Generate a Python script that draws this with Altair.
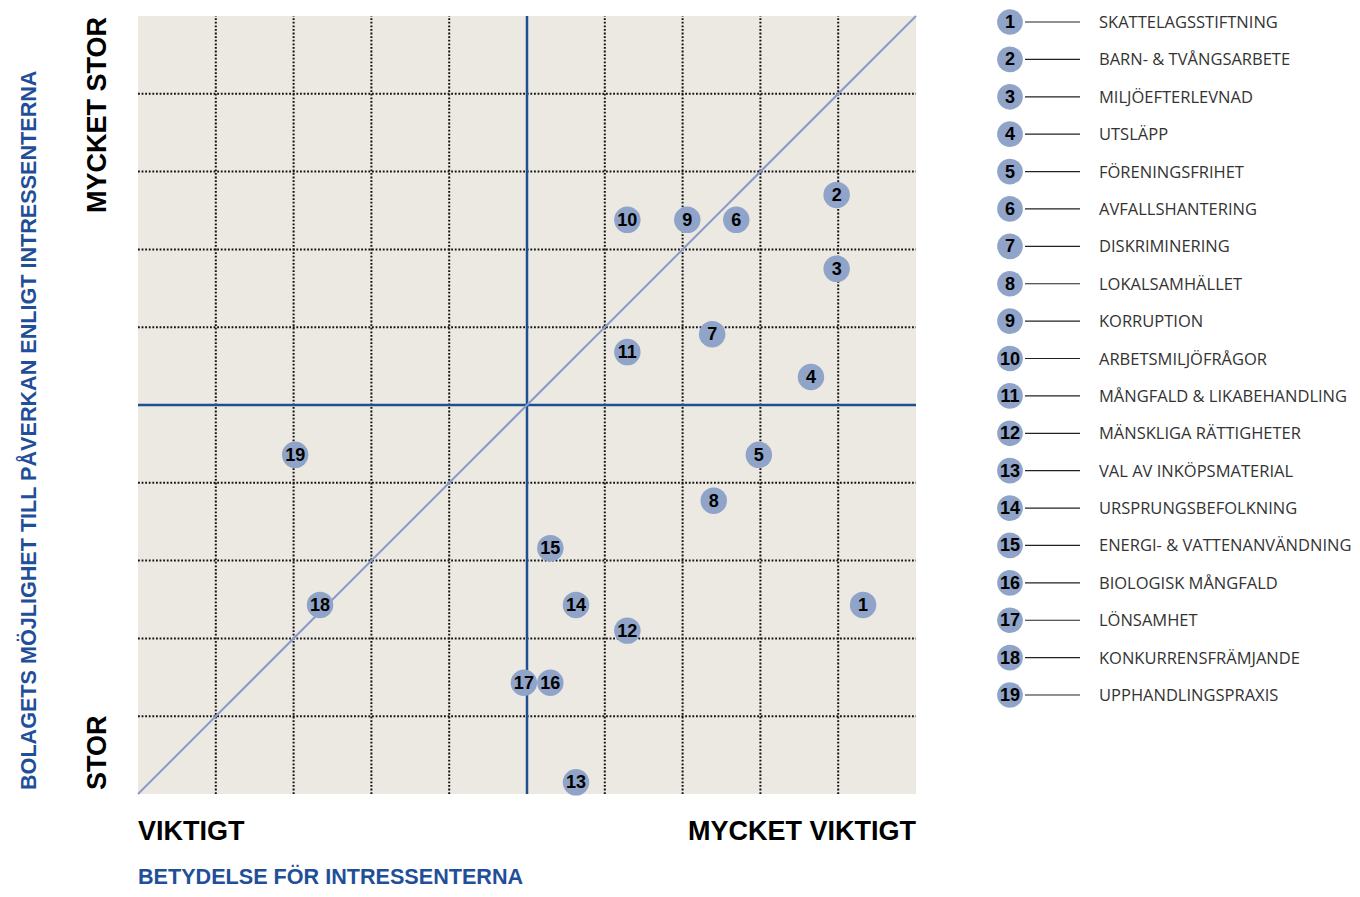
import altair as alt
import pandas as pd

# ---- data ----
issue_nr = list(range(1, 20))
issue_names = [
    "SKATTELAGSSTIFTNING", "BARN- & TVÅNGSARBETE", "MILJÖEFTERLEVNAD", "UTSLÄPP",
    "FÖRENINGSFRIHET", "AVFALLSHANTERING", "DISKRIMINERING", "LOKALSAMHÄLLET",
    "KORRUPTION", "ARBETSMILJÖFRÅGOR", "MÅNGFALD & LIKABEHANDLING",
    "MÄNSKLIGA RÄTTIGHETER", "VAL AV INKÖPSMATERIAL", "URSPRUNGSBEFOLKNING",
    "ENERGI- & VATTENANVÄNDNING", "BIOLOGISK MÅNGFALD", "LÖNSAMHET",
    "KONKURRENSFRÄMJANDE", "UPPHANDLINGSPRAXIS",
]
importance = [9.32, 8.98, 8.98, 8.65, 7.98, 7.69, 7.38, 7.40, 7.06, 6.29,
              6.29, 6.29, 5.63, 5.63, 5.30, 5.30, 4.96, 2.34, 2.02]
influence = [2.43, 7.70, 6.75, 5.36, 4.36, 7.38, 5.91, 3.77, 7.38, 7.38,
             5.68, 2.10, 0.15, 2.43, 3.16, 1.43, 1.43, 2.43, 4.36]
grid_ticks = [1, 2, 3, 4, 6, 7, 8, 9]

x_title = "BETYDELSE FÖR INTRESSENTERNA"
y_title = "BOLAGETS MÖJLIGHET TILL PÅVERKAN ENLIGT INTRESSENTERNA"
x_low, x_high = "VIKTIGT", "MYCKET VIKTIGT"
y_low, y_high = "STOR", "MYCKET STOR"

# ---- layout ----
W, H = 1344, 881
PX = 77.8                      # pixels per unit
XMIN = -130 / PX
XMAX = XMIN + W / PX
YMAX = 10 + 8 / PX
YMIN = YMAX - H / PX

xs = alt.Scale(domain=[XMIN, XMAX], nice=False, zero=False)
ys = alt.Scale(domain=[YMIN, YMAX], nice=False, zero=False)

BG = "#ece9e2"
DOT = "#8fa4c8"
NAVY = "#1d4f91"
DIAG = "#8d99c9"
TITLE_BLUE = "#1f4f98"
BOLD = "Liberation Sans"


def X(f):
    return alt.X(f, type="quantitative", scale=xs, axis=None)


def Y(f):
    return alt.Y(f, type="quantitative", scale=ys, axis=None)


pts = pd.DataFrame({"nr": issue_nr, "x": importance, "y": influence})

bg = alt.Chart(pd.DataFrame({"x": [0], "x2": [10], "y": [0], "y2": [10]})).mark_rect(
    color=BG).encode(x=X("x"), x2="x2", y=Y("y"), y2="y2")

vgrid = alt.Chart(pd.DataFrame({"v": grid_ticks, "a": 0, "b": 10})).mark_rule(
    color="#111111", strokeWidth=2, strokeDash=[1.8, 1.8]).encode(
    x=X("v"), y=Y("a"), y2="b")
hgrid = alt.Chart(pd.DataFrame({"v": grid_ticks, "a": 0, "b": 10})).mark_rule(
    color="#111111", strokeWidth=2, strokeDash=[1.8, 1.8]).encode(
    y=Y("v"), x=X("a"), x2="b")

vcenter = alt.Chart(pd.DataFrame({"v": [5], "a": [0], "b": [10]})).mark_rule(
    color=NAVY, strokeWidth=2.5).encode(x=X("v"), y=Y("a"), y2="b")
hcenter = alt.Chart(pd.DataFrame({"v": [5], "a": [0], "b": [10]})).mark_rule(
    color=NAVY, strokeWidth=2.5).encode(y=Y("v"), x=X("a"), x2="b")

diag = alt.Chart(pd.DataFrame({"a": [0], "b": [10]})).mark_rule(
    color=DIAG, strokeWidth=2).encode(x=X("a"), y=Y("a"), x2="b", y2="b")

circles = alt.Chart(pts).mark_circle(size=700, color=DOT, opacity=1).encode(
    x=X("x"), y=Y("y"))
nums = alt.Chart(pts).mark_text(font=BOLD, fontWeight="bold", fontSize=18,
                                color="#000000", baseline="middle", align="center",
                                dy=1).encode(x=X("x"), y=Y("y"), text="nr:N")

# legend (layout computed from item index)
leg = pd.DataFrame({"nr": issue_nr, "name": issue_names})
leg["y"] = [(794 - (22 + 37.39 * (n - 1))) / PX for n in issue_nr]
leg["cx"] = (1010 - 138) / PX
leg["lx1"] = (1025 - 138) / PX
leg["lx2"] = (1080 - 138) / PX
leg["tx"] = (1099 - 138) / PX

leg_lines = alt.Chart(leg).mark_rule(color="#222222", strokeWidth=1.2).encode(
    x=X("lx1"), x2="lx2", y=Y("y"))
leg_circles = alt.Chart(leg).mark_circle(size=660, color=DOT, opacity=1).encode(
    x=X("cx"), y=Y("y"))
leg_nums = alt.Chart(leg).mark_text(font=BOLD, fontWeight="bold", fontSize=18,
                                    color="#000000", baseline="middle", align="center",
                                    dy=1).encode(x=X("cx"), y=Y("y"), text="nr:N")
leg_text = alt.Chart(leg).mark_text(font="Open Sans", fontSize=16.5, color="#333333",
                                    baseline="middle", align="left", dy=1).encode(
    x=X("tx"), y=Y("y"), text="name:N")

# axis end labels and titles
lab = pd.DataFrame({
    "t": [x_low, x_high],
    "x": [0, 10],
    "y": [(794 - 840) / PX] * 2,
})
xlab_l = alt.Chart(lab.iloc[[0]]).mark_text(font=BOLD, fontWeight="bold", fontSize=27,
                                            color="#000000", align="left",
                                            baseline="alphabetic").encode(
    x=X("x"), y=Y("y"), text="t:N")
xlab_r = alt.Chart(lab.iloc[[1]]).mark_text(font=BOLD, fontWeight="bold", fontSize=27,
                                            color="#000000", align="right",
                                            baseline="alphabetic").encode(
    x=X("x"), y=Y("y"), text="t:N")

ylab = pd.DataFrame({"t": [y_low, y_high], "x": [(106 - 138) / PX] * 2,
                     "y": [(794 - 790) / PX, (794 - 17) / PX]})
ylab_l = alt.Chart(ylab.iloc[[0]]).mark_text(font=BOLD, fontWeight="bold", fontSize=27,
                                             color="#000000", align="left", angle=270,
                                             baseline="alphabetic").encode(
    x=X("x"), y=Y("y"), text="t:N")
ylab_h = alt.Chart(ylab.iloc[[1]]).mark_text(font=BOLD, fontWeight="bold", fontSize=27,
                                             color="#000000", align="right", angle=270,
                                             baseline="alphabetic").encode(
    x=X("x"), y=Y("y"), text="t:N")

xt = alt.Chart(pd.DataFrame({"t": [x_title], "x": [0], "y": [(794 - 884) / PX]})).mark_text(
    font=BOLD, fontWeight="bold", fontSize=21.6, color=TITLE_BLUE, align="left",
    baseline="alphabetic").encode(x=X("x"), y=Y("y"), text="t:N")
yt = alt.Chart(pd.DataFrame({"t": [y_title], "x": [(36 - 138) / PX],
                             "y": [(794 - 790) / PX]})).mark_text(
    font=BOLD, fontWeight="bold", fontSize=21.6, color=TITLE_BLUE, align="left", angle=270,
    baseline="alphabetic").encode(x=X("x"), y=Y("y"), text="t:N")

chart = alt.layer(
    bg, vgrid, hgrid, vcenter, hcenter, diag, circles, nums,
    leg_lines, leg_circles, leg_nums, leg_text,
    xlab_l, xlab_r, ylab_l, ylab_h, xt, yt,
).properties(
    width=W, height=H, padding=0,
    autosize=alt.AutoSizeParams(type="none"),
).configure_view(stroke=None)

chart.save("out.html", embed_options={"renderer": "svg", "actions": False})
